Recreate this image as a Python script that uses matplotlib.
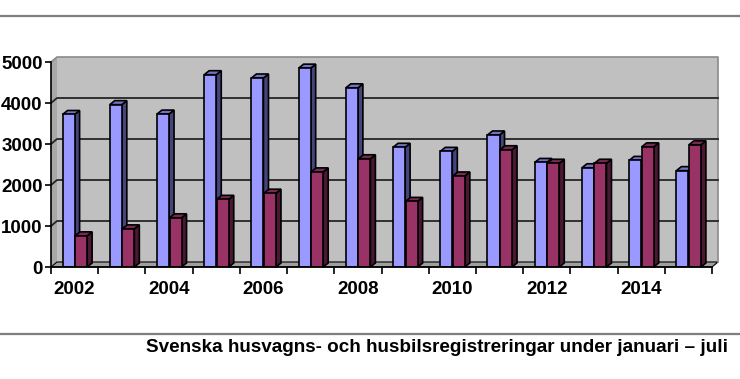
import matplotlib
matplotlib.use("Agg")
import matplotlib.pyplot as plt
from matplotlib.patches import Polygon, Rectangle
from matplotlib.lines import Line2D
import numpy as np

# ---- data ----
years = [2002, 2003, 2004, 2005, 2006, 2007, 2008, 2009, 2010, 2011, 2012, 2013, 2014, 2015]
husvagnar = [3720, 3960, 3730, 4690, 4610, 4850, 4370, 2920, 2820, 3220, 2550, 2420, 2600, 2350]
husbilar = [760, 930, 1200, 1650, 1800, 2320, 2640, 1600, 2220, 2860, 2530, 2530, 2930, 2980]
year_labels = ["2002", "", "2004", "", "2006", "", "2008", "", "2010", "", "2012", "", "2014", ""]
caption = "Svenska husvagns- och husbilsregistreringar under januari \u2013 juli"

plt.rcParams['font.family'] = ['Liberation Sans', 'DejaVu Sans']

W, H, DPI = 740, 379, 100
fig = plt.figure(figsize=(W / DPI, H / DPI), dpi=DPI)
ax = fig.add_axes([51 / W, 1 - 267 / H, (712 - 51) / W, (267 - 62) / H])
n = len(years)
x = np.arange(n)
ax.set_xlim(-0.5, n - 0.5)
ax.set_ylim(0, 5000)

# pixel -> data conversion for the pseudo-3D depth
pos = ax.get_position()
ax_w_px = pos.width * W
ax_h_px = pos.height * H
px_x = (n) / ax_w_px
px_y = 5000 / ax_h_px
wdx, wdy = 6 * px_x, 5 * px_y      # wall depth
bdx, bdy = 5 * px_x, 4 * px_y      # bar depth

x0, x1 = -0.5, n - 0.5
wall_c = '#c0c0c0'
# back wall
ax.add_patch(Rectangle((x0 + wdx, wdy), x1 - x0, 5000, facecolor=wall_c,
                       edgecolor='none', zorder=0.5, clip_on=False))
# left side wall
ax.add_patch(Polygon([(x0, 0), (x0, 5000), (x0 + wdx, 5000 + wdy), (x0 + wdx, wdy)],
                     closed=True, facecolor='#a8a8a8', edgecolor='none', zorder=0.6, clip_on=False))
# floor
ax.add_patch(Polygon([(x0, 0), (x1, 0), (x1 + wdx, wdy), (x0 + wdx, wdy)],
                     closed=True, facecolor='#a0a0a0', edgecolor='black', lw=0.8,
                     zorder=0.6, clip_on=False))
# wall border (top and right)
ax.add_line(Line2D([x0, x0 + wdx, x1 + wdx, x1 + wdx], [5000, 5000 + wdy, 5000 + wdy, wdy],
                   color='#8a8a8a', lw=1.2, zorder=0.7, clip_on=False))
# gridlines
for v in [1000, 2000, 3000, 4000]:
    ax.add_line(Line2D([x0, x0 + wdx, x1 + wdx], [v, v + wdy, v + wdy],
                       color='#262626', lw=1.3, zorder=0.8, clip_on=False))

bw = 0.255
blue_f, blue_t, blue_s = '#9999ff', '#7373c4', '#45457e'
red_f, red_t, red_s = '#993366', '#7a2950', '#4a1832'


def draw_bars(lefts, vals, fc, tc, sc, z):
    ax.bar(lefts, vals, width=bw, align='edge', color=fc, edgecolor='black',
           linewidth=1.2, zorder=z + 0.2)
    for l, v in zip(lefts, vals):
        r = l + bw
        ax.add_patch(Polygon([(l, v), (r, v), (r + bdx, v + bdy), (l + bdx, v + bdy)],
                             closed=True, facecolor=tc, edgecolor='black', lw=1.2,
                             zorder=z + 0.1, clip_on=False))
        ax.add_patch(Polygon([(r, 0), (r, v), (r + bdx, v + bdy), (r + bdx, bdy)],
                             closed=True, facecolor=sc, edgecolor='black', lw=1.2,
                             zorder=z, clip_on=False))


draw_bars(x - bw, husvagnar, blue_f, blue_t, blue_s, 3)
draw_bars(x + 0.01, husbilar, red_f, red_t, red_s, 4)

# axes
for s in ['top', 'right']:
    ax.spines[s].set_visible(False)
for s in ['left', 'bottom']:
    ax.spines[s].set_color('black')
    ax.spines[s].set_linewidth(1.2)
    ax.spines[s].set_zorder(6)
ax.set_yticks([0, 1000, 2000, 3000, 4000, 5000])
ax.set_yticklabels(['0', '1000', '2000', '3000', '4000', '5000'])
ax.tick_params(axis='y', direction='out', length=4, width=1.2, pad=2,
               labelsize=13.5)
ax.set_xticks(x)
ax.set_xticklabels(year_labels)
ax.set_xticks(np.arange(n + 1) - 0.5, minor=True)
ax.tick_params(axis='x', which='major', length=0, pad=10, labelsize=13.5)
ax.tick_params(axis='x', which='minor', direction='out', length=5, width=1.2)
for lab in ax.get_xticklabels() + ax.get_yticklabels():
    lab.set_fontweight('bold')
ax.patch.set_visible(False)

# rules and caption
fig.add_artist(Line2D([0, 1], [1 - 16 / H] * 2, color='#7f7f7f', lw=1.6))
fig.add_artist(Line2D([0, 1], [1 - 334 / H] * 2, color='#7f7f7f', lw=1.6))
fig.text(728 / W, 1 - 348 / H, caption, ha='right', va='center',
         fontsize=13.6, fontweight='bold')

fig.savefig('out.png', dpi=DPI)
